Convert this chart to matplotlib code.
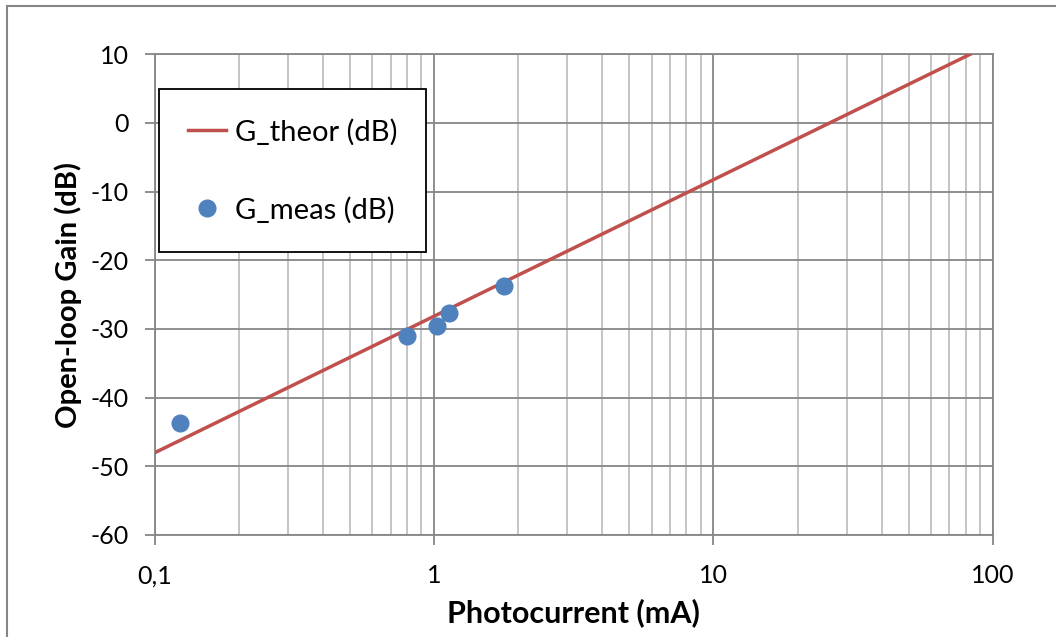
import matplotlib.pyplot as plt
import matplotlib.patches as patches
from matplotlib.ticker import LogLocator, FixedLocator, FuncFormatter

plt.rcParams['font.family'] = ['Lato', 'DejaVu Sans']
plt.rcParams['axes.unicode_minus'] = False

# --- data ---
theor_current = [0.1, 83.0]        # mA
theor_gain = [-48.0, 10.0]         # dB
meas_current = [0.123, 0.80, 1.026, 1.133, 1.78]
meas_gain = [-43.7, -31.0, -29.6, -27.6, -23.7]

x_ticks = [0.1, 1, 10, 100]
x_ticklabels = ['0,1', '1', '10', '100']
y_ticks = list(range(-60, 11, 10))

colors = {
    'line': '#c0504d',
    'marker': '#4f81bd',
    'major_grid': '#868686',
    'minor_grid': '#bfbfbf',
    'frame': '#868686',
}

fig = plt.figure(figsize=(10.56, 6.37), dpi=100)
ax = fig.add_axes([155 / 1056, 1 - 535 / 637, 837.7 / 1056, (535 - 54.3) / 637])

# outer chart border (Excel style)
fig.patches.append(patches.Rectangle((7 / 1056, -0.1), 1.2, 1 - 6 / 637 + 0.1,
                                     transform=fig.transFigure, fill=False,
                                     edgecolor=colors['frame'], linewidth=1.5))

ax.set_xscale('log')
ax.set_xlim(0.1, 100)
ax.set_ylim(-60, 10)

ax.plot(theor_current, theor_gain, color=colors['line'], linewidth=2.5,
        label='G_theor (dB)', zorder=3)
ax.plot(meas_current, meas_gain, 'o', color=colors['marker'], markersize=12,
        label='G_meas (dB)', zorder=4, linestyle='none')

# ticks and grid
ax.xaxis.set_major_locator(FixedLocator(x_ticks))
ax.xaxis.set_major_formatter(FuncFormatter(lambda v, p: x_ticklabels[x_ticks.index(v)] if v in x_ticks else ''))
ax.xaxis.set_minor_locator(LogLocator(base=10, subs=range(2, 10)))
ax.xaxis.set_minor_formatter(FuncFormatter(lambda v, p: ''))
ax.set_yticks(y_ticks)

ax.grid(which='major', color=colors['major_grid'], linewidth=1.3)
ax.grid(which='minor', axis='x', color=colors['minor_grid'], linewidth=1.3)
ax.set_axisbelow(True)

ax.tick_params(axis='both', which='major', direction='out', length=7,
               color=colors['major_grid'], width=1.3, labelsize=18)
ax.tick_params(axis='x', which='minor', length=0)
ax.tick_params(axis='x', pad=14)
ax.tick_params(axis='y', pad=12)

for side in ['top', 'right', 'left', 'bottom']:
    ax.spines[side].set_color(colors['major_grid'])
    ax.spines[side].set_linewidth(1.3)

ax.set_xlabel('Photocurrent (mA)', fontsize=22, fontweight='bold', labelpad=8)
ax.set_ylabel('Open-loop Gain (dB)', fontsize=21, fontweight='bold', labelpad=6)

leg = ax.legend(loc='upper left', bbox_to_anchor=(3.7 / 837.7, 1 - 35 / 480.7),
                fontsize=21, frameon=True, fancybox=False, edgecolor='black',
                framealpha=1, handlelength=1.3, handletextpad=0.3,
                labelspacing=1.75, borderpad=1.0, borderaxespad=0)
leg.get_frame().set_linewidth(1.3)

fig.savefig('out.png', dpi=100)
